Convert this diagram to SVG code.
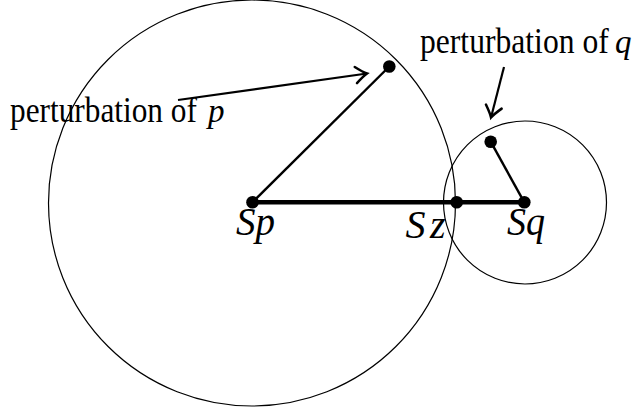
<svg xmlns="http://www.w3.org/2000/svg" width="632" height="412" viewBox="0 0 632 412">
<style>
.circ{fill:none;stroke:#000;stroke-width:1.2}
.dot{fill:#000}
.txt{font-family:"Liberation Serif","Times New Roman",serif;font-size:31px;fill:#000}
.math{font-family:"Liberation Serif","Times New Roman",serif;font-style:italic;fill:#000}
.arr{fill:none;stroke:#000;stroke-width:2.2}
</style>
<defs>
<marker id="head" markerUnits="userSpaceOnUse" markerWidth="20" markerHeight="20" viewBox="-12 -8 16 16" refX="0" refY="0" orient="auto">
<path d="M -9,-6.5 Q -3,-1.5 0,0 Q -3,1.5 -9,6.5" fill="none" stroke="#000" stroke-width="2" stroke-linecap="round"/>
</marker>
</defs>
<rect width="632" height="412" fill="#fff"/>
<g id="disc-p"><ellipse class="circ" cx="252" cy="203" rx="203.5" ry="203"/></g>
<g id="disc-q"><circle class="circ" cx="525" cy="202.5" r="81.5"/></g>
<g id="connectors">
<line x1="252.5" y1="202.3" x2="524.3" y2="202.3" stroke="#000" stroke-width="4.6"/>
<line x1="252.5" y1="202.3" x2="389.3" y2="66.5" stroke="#000" stroke-width="2.4"/>
<line x1="524.3" y1="202.3" x2="490.7" y2="141.7" stroke="#000" stroke-width="2.4"/>
<line class="arr" x1="178" y1="100" x2="367" y2="73.5" marker-end="url(#head)"/>
<line class="arr" x1="504" y1="67" x2="491" y2="117.5" marker-end="url(#head)"/>
</g>
<g id="Sp"><circle class="dot" cx="252.5" cy="202.3" r="6.3"/><text class="math" x="236" y="234.5" font-size="40" textLength="39" lengthAdjust="spacingAndGlyphs">Sp</text></g>
<g id="Sz"><circle class="dot" cx="456.7" cy="202.2" r="6.3"/><text class="math" x="405.5" y="238.3" font-size="40" textLength="40">Sz</text></g>
<g id="Sq"><circle class="dot" cx="524.3" cy="202.3" r="6.3"/><text class="math" x="507" y="235" font-size="40" textLength="38" lengthAdjust="spacingAndGlyphs">Sq</text></g>
<g id="p-pert"><circle class="dot" cx="389.3" cy="66.5" r="6.3"/></g>
<g id="q-pert"><circle class="dot" cx="490.7" cy="141.7" r="6.3"/></g>
<g id="label-p"><text class="txt" transform="translate(10,121.7) scale(1.01,1.13)" x="0" y="0">perturbation of</text><text class="math" x="208" y="121.7" font-size="33">p</text></g>
<g id="label-q"><text class="txt" transform="translate(420,53.3) scale(1.02,1.13)" x="0" y="0">perturbation of</text><text class="math" x="615" y="53.3" font-size="33">q</text></g>
</svg>
